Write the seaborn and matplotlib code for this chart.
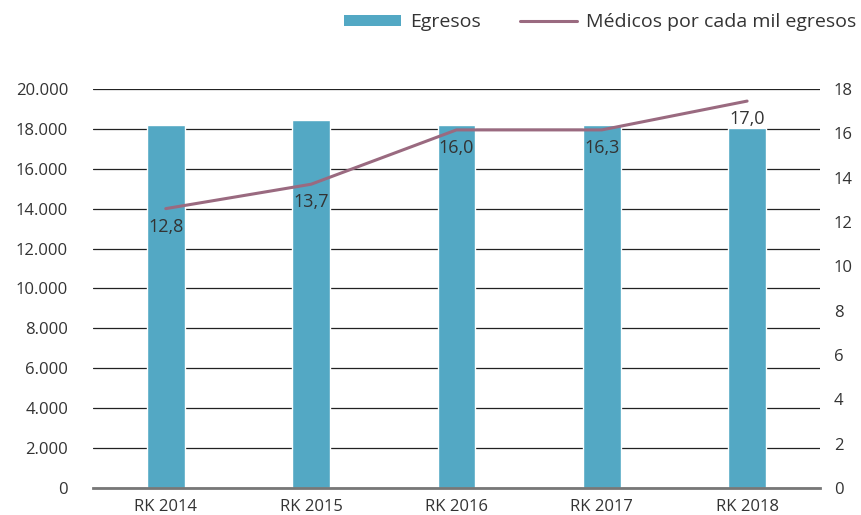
import matplotlib
matplotlib.use("Agg")
import matplotlib.pyplot as plt
import seaborn as sns
import pandas as pd
from matplotlib.patches import Patch
from matplotlib.lines import Line2D

# --- données ---
anios = ["RK 2014", "RK 2015", "RK 2016", "RK 2017", "RK 2018"]
egresos = [18200, 18450, 18200, 18200, 18050]
medicos = [12.6, 13.7, 16.15, 16.15, 17.45]
etiquetas = ["12,8", "13,7", "16,0", "16,3", "17,0"]
ticks_izq = [0, 2000, 4000, 6000, 8000, 10000, 12000, 14000, 16000, 18000, 20000]
ticks_der = [0, 2, 4, 6, 8, 10, 12, 14, 16, 18]

col_barra = "#53A8C4"
col_linea = "#9A6A80"
col_texto = "#333333"

sns.set_style("white")
plt.rcParams["font.family"] = ["Open Sans", "DejaVu Sans"]

df = pd.DataFrame({"anio": anios, "egresos": egresos, "medicos": medicos})

fig = plt.figure(figsize=(8.62, 5.15), dpi=100)
ax = fig.add_axes([0.108, 0.0524, 0.843, 0.775])

# gridlines derrière les barres
ax.set_axisbelow(True)
ax.yaxis.grid(True, color="#222222", lw=0.9)

sns.barplot(data=df, x="anio", y="egresos", color=col_barra, width=0.26,
            saturation=1, ax=ax, zorder=3)

ax.set_ylim(0, 20000)
ax.set_xlim(-0.5, 4.5)
ax.set_yticks(ticks_izq)
ax.set_yticklabels([f"{t:,}".replace(",", ".") for t in ticks_izq])
ax.set_xlabel("")
ax.set_ylabel("")
for s in ["top", "left", "right"]:
    ax.spines[s].set_visible(False)
ax.spines["bottom"].set_color("#777777")
ax.spines["bottom"].set_linewidth(2)
ax.spines["bottom"].set_zorder(4)
ax.tick_params(axis="both", length=0, labelsize=12, colors=col_texto)
ax.tick_params(axis="y", pad=18)
ax.tick_params(axis="x", pad=8)

ax2 = ax.twinx()
sns.lineplot(x=list(range(len(anios))), y=medicos, color=col_linea, lw=2.2, ax=ax2)
ax2.set_ylim(0, 18)
ax2.set_yticks(ticks_der)
ax2.set_yticklabels([str(t) for t in ticks_der])
ax2.tick_params(axis="y", length=0, labelsize=12, colors=col_texto, pad=10)
for s in ["top", "left", "right", "bottom"]:
    ax2.spines[s].set_visible(False)
ax2.set_xlim(-0.5, 4.5)

for i, (v, lab) in enumerate(zip(medicos, etiquetas)):
    ax2.annotate(lab, (i, v), xytext=(0, -18), textcoords="offset pixels",
                 ha="center", va="center", fontsize=13, color=col_texto)

handles = [Patch(facecolor=col_barra, edgecolor="none"),
           Line2D([0], [0], color=col_linea, lw=2.2)]
fig.legend(handles, ["Egresos", "Médicos por cada mil egresos"],
           loc="upper right", bbox_to_anchor=(1.014, 1.008), ncol=2, frameon=False,
           fontsize=14, handlelength=2.9, handleheight=0.5, columnspacing=2.0,
           handletextpad=0.5, labelcolor=col_texto)

fig.savefig("out.png", dpi=100)
